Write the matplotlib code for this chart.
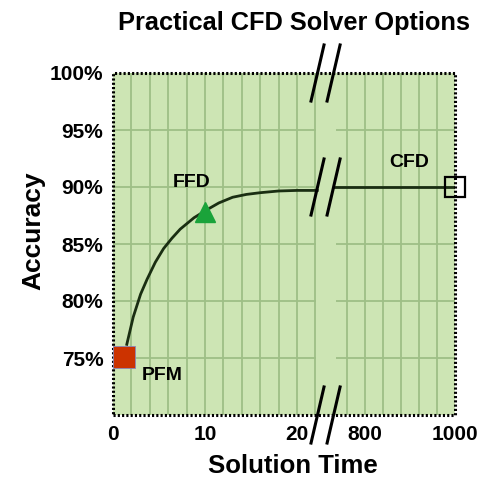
import numpy as np
import matplotlib.pyplot as plt
from matplotlib.lines import Line2D

plt.rcParams["font.family"] = ["Liberation Sans", "DejaVu Sans"]
plt.rcParams["font.weight"] = "bold"

# 数据
curve_x = [1.5, 2.2, 3.0, 3.7, 4.6, 5.5, 6.4, 7.3, 8.8, 10.2, 11.5, 13, 14.5, 16, 18, 20, 22.2]
curve_y = [76.2, 78.6, 80.6, 81.9, 83.4, 84.6, 85.5, 86.3, 87.3, 88.0, 88.6, 89.1, 89.35, 89.5, 89.65, 89.7, 89.7]
cfd_line_x = [730, 1000]
cfd_line_y = [90, 90]
point_names = ["PFM", "FFD", "CFD"]
point_x = [1.2, 10, 1000]
point_y = [75.1, 87.8, 90]
yticks = [75, 80, 85, 90, 95, 100]
xticks = [0, 10, 20, 800, 1000]
grid_left = [2, 4, 6, 8, 10, 12, 14, 16, 18, 20, 22]
grid_right = [760, 800, 840, 880, 920, 960]
grid_y = [75, 80, 85, 90, 95]

# 断轴映射
xs = [0, 22.3, 730, 1000]
us = [0, 22.3, 23.97, 37.17]


def fwd(x):
    return np.interp(x, xs, us)


def inv(u):
    return np.interp(u, us, xs)


fig = plt.figure(figsize=(4.83, 4.78), dpi=100)
ax = fig.add_axes([113 / 483, 63 / 478, 342 / 483, 342 / 478])
ax.set_xscale("function", functions=(fwd, inv))
ax.set_xlim(0, 1000)
ax.set_ylim(70, 100)
ax.set_facecolor("#cde5b4")

gc = "#9ebf86"
ax.vlines(grid_left, 70, 100, color=gc, lw=1.3, zorder=1)
ax.vlines(grid_right, 70, 100, color=gc, lw=1.3, zorder=1)
ax.hlines(grid_y, 0, 22.1, color=gc, lw=1.3, zorder=1)
ax.hlines(grid_y, 735, 1000, color=gc, lw=1.3, zorder=1)

ax.plot(curve_x, curve_y, color="#1a2e12", lw=2, zorder=3)
ax.plot(cfd_line_x, cfd_line_y, color="#1a2e12", lw=2, zorder=3)

ax.plot(point_x[0], point_y[0], marker="s", ms=16, color="#cc3300",
        mec="#8888bb", mew=0.6, clip_on=False, zorder=5)
ax.plot(point_x[1], point_y[1], marker="^", ms=15, color="#1aa33a",
        mec="#1aa33a", clip_on=False, zorder=5)
ax.plot(point_x[2], point_y[2], marker="s", ms=14, mfc="none",
        mec="black", mew=1.6, clip_on=False, zorder=5)

ax.text(5.4, 73.45, point_names[0], fontsize=14, ha="center", va="center")
ax.text(8.5, 90.4, point_names[1], fontsize=14, ha="center", va="center")
ax.text(898, 92.15, point_names[2], fontsize=14, ha="center", va="center")

# 断点斜线
for yc in [1.0, (90 - 70) / 30, 0.0]:
    for x0 in [0.579, 0.626]:
        ax.add_line(Line2D([x0, x0 + 0.038], [yc - 0.082, yc + 0.082],
                           transform=ax.transAxes, color="black", lw=2.2,
                           clip_on=False, zorder=6))

# 点线边框
for s in ax.spines.values():
    s.set_visible(False)
ax.plot([0, 1, 1, 0, 0], [0, 0, 1, 1, 0], transform=ax.transAxes,
        color="black", lw=2.2, ls=(0, (0.7, 0.7)), clip_on=False, zorder=4)

ax.set_yticks(yticks)
ax.set_yticklabels([f"{v}%" for v in yticks])
ax.set_xticks(xticks)
ax.set_xticklabels([str(v) for v in xticks])
ax.tick_params(length=0, labelsize=15, pad=7)
ax.minorticks_off()

ax.set_xlabel("Solution Time", fontsize=18.5, fontweight="bold", va="center")
ax.xaxis.set_label_coords(0.526, -0.148)
ax.set_ylabel("Accuracy", fontsize=19, fontweight="bold", va="center")
ax.yaxis.set_label_coords(-0.234, 0.538)
fig.text(294 / 483, 1 - 23 / 478, "Practical CFD Solver Options",
         fontsize=18.3, fontweight="bold", ha="center", va="center")

fig.savefig("out.png", dpi=100)
